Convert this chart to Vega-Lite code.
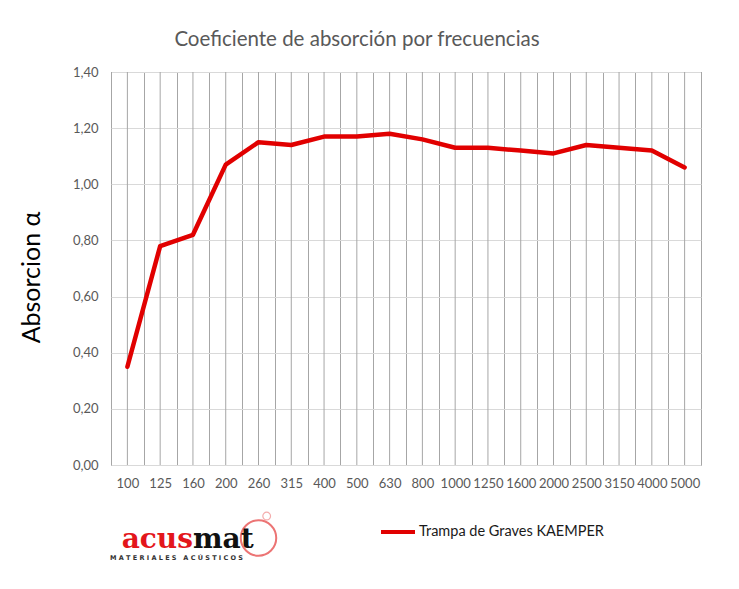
{
  "$schema": "https://vega.github.io/schema/vega-lite/v6.json",
  "width": 590,
  "height": 393,
  "autosize": {"type": "none"},
  "padding": {"left": 111, "top": 72, "right": 38, "bottom": 124},
  "background": "white",
  "title": {
    "text": "Coeficiente de absorción por frecuencias",
    "font": "Lato",
    "fontSize": 20.5,
    "fontWeight": "normal",
    "color": "#595959",
    "anchor": "middle",
    "dx": -49,
    "offset": 16
  },
  "data": {
    "values": [
      {"frecuencia": "100", "absorcion": 0.35},
      {"frecuencia": "125", "absorcion": 0.78},
      {"frecuencia": "160", "absorcion": 0.82},
      {"frecuencia": "200", "absorcion": 1.07},
      {"frecuencia": "260", "absorcion": 1.15},
      {"frecuencia": "315", "absorcion": 1.14},
      {"frecuencia": "400", "absorcion": 1.17},
      {"frecuencia": "500", "absorcion": 1.17},
      {"frecuencia": "630", "absorcion": 1.18},
      {"frecuencia": "800", "absorcion": 1.16},
      {"frecuencia": "1000", "absorcion": 1.13},
      {"frecuencia": "1250", "absorcion": 1.13},
      {"frecuencia": "1600", "absorcion": 1.12},
      {"frecuencia": "2000", "absorcion": 1.11},
      {"frecuencia": "2500", "absorcion": 1.14},
      {"frecuencia": "3150", "absorcion": 1.13},
      {"frecuencia": "4000", "absorcion": 1.12},
      {"frecuencia": "5000", "absorcion": 1.06}
    ]
  },
  "encoding": {
    "x": {
      "field": "frecuencia",
      "type": "nominal",
      "sort": null,
      "scale": {"type": "band", "paddingInner": 0, "paddingOuter": 0},
      "axis": {
        "title": null,
        "labelAngle": 0,
        "labelFont": "Lato",
        "labelFontSize": 13,
        "labelColor": "#595959",
        "labelPadding": 12,
        "ticks": false,
        "tickBand": "extent",
        "grid": true,
        "gridColor": "#a6a6a6",
        "domainColor": "#d9d9d9"
      }
    }
  },
  "layer": [
    {
      "mark": {"type": "rule", "color": "#a6a6a6", "strokeWidth": 1},
      "encoding": {}
    },
    {
      "mark": {"type": "line", "strokeWidth": 4.5, "strokeCap": "round", "strokeJoin": "round"},
      "encoding": {
        "y": {
          "field": "absorcion",
          "type": "quantitative",
          "scale": {"domain": [0, 1.4], "nice": false, "zero": true},
          "axis": {
            "title": "Absorcion α",
            "titleFont": "Lato",
            "titleFontSize": 25,
            "titleFontWeight": "normal",
            "titleColor": "#000000",
            "titleX": -80,
            "titleY": 205,
            "titleBaseline": "middle",
            "values": [0, 0.2, 0.4, 0.6, 0.8, 1.0, 1.2, 1.4],
            "labelExpr": "replace(format(datum.value, '.2f'), '.', ',')",
            "labelFont": "Lato",
            "labelFontSize": 13,
            "labelColor": "#595959",
            "labelPadding": 13,
            "ticks": false,
            "domain": false,
            "grid": true,
            "gridColor": "#d9d9d9"
          }
        },
        "color": {
          "datum": "Trampa de Graves KAEMPER",
          "type": "nominal",
          "scale": {"range": ["#e10000"]},
          "legend": {
            "title": null,
            "orient": "none",
            "legendX": 268,
            "legendY": 441,
            "padding": 0,
            "symbolType": "stroke",
            "symbolSize": 1156,
            "symbolStrokeWidth": 4,
            "labelFont": "Lato",
            "labelFontSize": 14.5,
            "labelColor": "#1a1a1a",
            "labelLimit": 400,
            "labelOffset": 2
          }
        }
      }
    },
    {
      "data": {"values": [{}]},
      "mark": {"type": "point", "shape": "circle", "filled": false, "stroke": "#e53a3a", "strokeWidth": 2, "size": 1257},
      "encoding": {
        "x": {"datum": "260"},
        "y": {"datum": -0.26}
      }
    },
    {
      "data": {"values": [{}]},
      "mark": {"type": "point", "shape": "circle", "filled": false, "stroke": "#f08a8a", "strokeWidth": 1.2, "size": 60},
      "encoding": {
        "x": {"datum": "260", "bandPosition": 0.75},
        "y": {"datum": -0.182}
      }
    },
    {
      "data": {"values": [{}]},
      "mark": {"type": "text", "text": "acus", "font": "DejaVu Serif", "fontWeight": "bold", "fontSize": 28, "color": "#e3161b", "align": "right", "baseline": "alphabetic"},
      "encoding": {
        "x": {"datum": "160"},
        "y": {"datum": -0.296}
      }
    },
    {
      "data": {"values": [{}]},
      "mark": {"type": "text", "text": "mat", "font": "DejaVu Serif", "fontWeight": "bold", "fontSize": 28, "color": "#111111", "align": "left", "baseline": "alphabetic"},
      "encoding": {
        "x": {"datum": "160"},
        "y": {"datum": -0.296}
      }
    },
    {
      "data": {"values": [{}]},
      "mark": {"type": "text", "text": "M\u00a0A\u00a0T\u00a0E\u00a0R\u00a0I\u00a0A\u00a0L\u00a0E\u00a0S\u00a0\u00a0\u00a0A\u00a0C\u00a0Ú\u00a0S\u00a0T\u00a0I\u00a0C\u00a0O\u00a0S", "font": "DejaVu Sans", "fontWeight": "bold", "fontSize": 6.5, "color": "#333333", "align": "center", "baseline": "alphabetic"},
      "encoding": {
        "x": {"datum": "125", "bandPosition": 1},
        "y": {"datum": -0.338}
      }
    }
  ],
  "config": {
    "view": {"stroke": "#000000", "strokeWidth": 1}
  }
}
